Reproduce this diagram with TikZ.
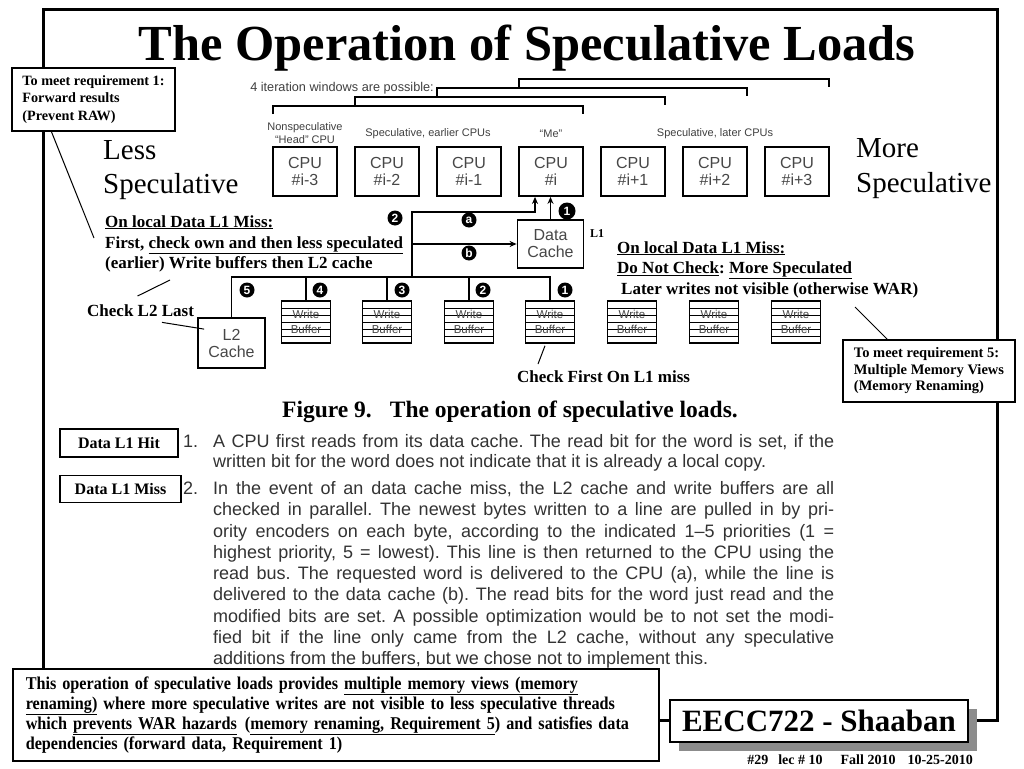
\documentclass[tikz,border=0pt]{standalone}
\usepackage{fontspec}
\setmainfont{Liberation Serif}
\newfontfamily\arial{Liberation Sans}
\newfontfamily\condserif[FakeStretch=0.9]{Liberation Serif}
\usetikzlibrary{arrows.meta,shadows,calc}
\newcommand\fsz[2]{\fontsize{#1pt}{#2pt}\selectfont}
\frenchspacing
\tikzset{
  frameline/.style={line width=3pt},
  cpu/.style={draw, line width=1.8pt, minimum width=64pt, minimum height=49pt, align=center, inner sep=0pt, font=\arial\fsz{16}{17}, text=black!72},
  cache/.style={cpu, minimum width=66pt, minimum height=48pt},
  wbuf/.style={draw, line width=1.5pt, minimum width=49pt, minimum height=42pt, inner sep=0pt, align=center, font=\arial\fsz{11.5}{14.5}, text=black!72,
    path picture={\foreach \f in {0.1667,0.3333,0.5,0.6667,0.8333}{\draw[line width=1pt] ($(path picture bounding box.north west)!\f!(path picture bounding box.south west)$) -- ($(path picture bounding box.north east)!\f!(path picture bounding box.south east)$);}}},
  num/.style={circle, fill=black, text=white, inner sep=0pt, minimum size=15pt, font=\arial\bfseries\fsz{12}{12}},
  bus/.style={line width=1.8pt},
  brk/.style={line width=1.8pt},
  arr/.style={-{Stealth[length=7pt,width=6pt]}},
  small/.style={font=\arial\fsz{11}{12.5}, text=black!75, inner sep=0pt, align=center},
  ann/.style={font=\bfseries\fsz{17}{21}, inner sep=0pt, anchor=base west},
  big/.style={font=\fsz{29}{33}, inner sep=0pt, anchor=base west},
  callout/.style={draw, line width=1.2pt, fill=white, align=left},
  lbox/.style={draw, line width=1.2pt, fill=white, font=\bfseries\fsz{16}{16}, inner sep=0pt},
  para/.style={font=\arial\fsz{18}{18}, text=black!80, anchor=base west, inner sep=0pt},
  pointer/.style={line width=1pt}
}
\begin{document}
\begin{tikzpicture}[x=1pt,y=-1pt]
\useasboundingbox (0,0) rectangle (1024,768);
\fill[white] (0,0) rectangle (1024,768);
% slide frame
\draw[frameline] (43,10) rectangle (997,720);
% title
\node[font=\bfseries\fsz{50.5}{50.5}, anchor=base, inner sep=0pt] (title) at (527,60) {The Operation of Speculative Loads};

% CPUs
\node[cpu] (c1) at (305,171.5) {CPU\\\#i-3};
\node[cpu] (c2) at (387,171.5) {CPU\\\#i-2};
\node[cpu] (c3) at (469,171.5) {CPU\\\#i-1};
\node[cpu] (c4) at (551,171.5) {CPU\\\#i};
\node[cpu] (c5) at (633,171.5) {CPU\\\#i+1};
\node[cpu] (c6) at (715,171.5) {CPU\\\#i+2};
\node[cpu] (c7) at (797,171.5) {CPU\\\#i+3};

% labels above CPUs
\node[small] (lab1) at (305,133) {Nonspeculative\\“Head” CPU};
\node[small] (lab2) at (428,134) {Speculative, earlier CPUs};
\node[small] (lab3) at (551,134) {“Me”};
\node[small] (lab4) at (715,134) {Speculative, later CPUs};
\node[small, font=\arial\fsz{12.7}{13}, anchor=base east] (iter) at (434,91) {4 iteration windows are possible:};

% iteration window brackets
\draw[brk] (273,114) -- (273,106) -- (583,106) -- (583,114);
\draw[brk] (355,106) -- (355,97) -- (665,97) -- (665,105);
\draw[brk] (437,97) -- (437,88) -- (747,88) -- (747,96);
\draw[brk] (519,88) -- (519,79) -- (829,79) -- (829,87);

% caches and write buffers
\node[cache] (dc) at (550.5,244) {Data\\Cache};
\node[cache, minimum width=67pt, minimum height=50pt] (l2) at (231.5,343) {L2\\Cache};
\node[wbuf] (wb1) at (306,322) {Write\\Buffer};
\node[wbuf] (wb2) at (387,322) {Write\\Buffer};
\node[wbuf] (wb3) at (469,322) {Write\\Buffer};
\node[wbuf] (wb4) at (550,322) {Write\\Buffer};
\node[wbuf] (wb5) at (632,322) {Write\\Buffer};
\node[wbuf] (wb6) at (714,322) {Write\\Buffer};
\node[wbuf] (wb7) at (796,322) {Write\\Buffer};
\node[font=\bfseries\fsz{12}{12}, anchor=base west, inner sep=0pt] (l1lab) at (590,237) {L1};

% buses
\coordinate (busJ) at (412,277);
\coordinate (busA) at (412,212);
\coordinate (busB) at (412,244);
\draw[bus] (l2.north) |- (wb4.north |- busJ) -- (wb4.north);
\draw[bus] (wb1.north) -- (wb1.north |- busJ);
\draw[bus] (wb2.north) -- (wb2.north |- busJ);
\draw[bus] (wb3.north) -- (wb3.north |- busJ);
\draw[bus, arr] (busJ) -- (busA) -| ([xshift=-16pt]c4.south);
\draw[bus, arr] (busB) -- (dc.west);
\draw[bus, arr] (dc.north) -- (dc.north |- c4.south);

% priority circles
\node[num] (p2top) at (395,218) {2};
\node[num] (pa) at (469,220) {a};
\node[num] (pb) at (469,253) {b};
\node[num, minimum size=17pt] (p1top) at (567,211) {1};
\node[num] (p5) at (247,290) {5};
\node[num] (p4) at (320,290) {4};
\node[num] (p3) at (402,290) {3};
\node[num] (p2) at (483,290) {2};
\node[num] (p1) at (565,290) {1};

% Less / More speculative
\node[big] (less) at (103,159.5) {Less};
\node[big] (lessS) at (103,193) {Speculative};
\node[big] (more) at (856,157) {More};
\node[big] (moreS) at (856,192) {Speculative};

% annotations
\node[ann] (ll1) at (105,227) {\underline{On local Data L1 Miss:}};
\node[ann] (ll2) at (105,248) {First, \underline{check own and then less speculated}};
\node[ann] (ll3) at (105,268.5) {(earlier) Write buffers then L2 cache};
\node[ann] (rl1) at (617,253) {\underline{On local Data L1 Miss:}};
\node[ann] (rl2) at (617,273.5) {\underline{Do Not Check}: \underline{More Speculated}};
\node[ann] (rl3) at (621,294) {Later writes not visible (otherwise WAR)};
\node[ann] (chkl2) at (87,316) {Check L2 Last};
\node[ann] (chkf) at (517,382) {Check First On L1 miss};

% callouts
\node[callout, minimum width=163pt, minimum height=63pt, font=\bfseries\fsz{14.2}{17.3}] (req1) at (93.5,99.5) {To meet requirement 1:\\Forward results\\(Prevent RAW)};
\node[callout, minimum width=172pt, minimum height=62pt, font=\bfseries\fsz{14.5}{16.5}] (req5) at (929,371) {To meet requirement 5:\\Multiple Memory Views\\(Memory Renaming)};

% pointer lines
\coordinate (q1) at (94,238);
\coordinate (q2) at (170,280);
\coordinate (q3) at (855,307);
\coordinate (q4) at (538,364);
\draw[pointer] ([xshift=40pt]req1.south west) -- (q1);
\draw[pointer] ([xshift=-3pt,yshift=8pt]chkl2.north) -- (q2);
\draw[pointer] ([xshift=75pt,yshift=-6pt]chkl2.south west) -- ([xshift=7pt,yshift=-12pt]l2.north west);
\draw[pointer] ([xshift=45pt]req5.north west) -- (q3);
\draw[pointer] ([xshift=-5pt,yshift=-2pt]wb4.south) -- (q4);

% figure caption
\node[font=\bfseries\fsz{23.5}{23.5}, anchor=base west, inner sep=0pt] (cap) at (282,417) {Figure 9.\hspace{18pt}The operation of speculative loads.};

% hit / miss boxes
\node[lbox, minimum width=118pt, minimum height=28pt] (hit) at (119,443) {Data L1 Hit};
\node[lbox, minimum width=121pt, minimum height=27pt] (miss) at (120.5,489) {Data L1 Miss};

% paragraph text
\node[para] (n1) at (183,447) {1.};
\node[para] (n2) at (183,494.5) {2.};
\node[para] (a1) at (213,447) {\makebox[621pt][s]{A CPU first reads from its data cache. The read bit for the word is set, if the}};
\node[para] (a2) at (213,467.5) {written bit for the word does not indicate that it is already a local copy.};
\node[para] (b1) at (213,494.5) {\makebox[621pt][s]{In the event of an data cache miss, the L2 cache and write buffers are all}};
\node[para] (b2) at (213,515.5) {\makebox[621pt][s]{checked in parallel. The newest bytes written to a line are pulled in by pri-}};
\node[para] (b3) at (213,537) {\makebox[621pt][s]{ority encoders on each byte, according to the indicated 1–5 priorities (1 =}};
\node[para] (b4) at (213,558) {\makebox[621pt][s]{highest priority, 5 = lowest). This line is then returned to the CPU using the}};
\node[para] (b5) at (213,579.5) {\makebox[621pt][s]{read bus. The requested word is delivered to the CPU (a), while the line is}};
\node[para] (b6) at (213,600.5) {\makebox[621pt][s]{delivered to the data cache (b). The read bits for the word just read and the}};
\node[para] (b7) at (213,622) {\makebox[621pt][s]{modified bits are set. A possible optimization would be to not set the modi-}};
\node[para] (b8) at (213,643) {\makebox[621pt][s]{fied bit if the line only came from the L2 cache, without any speculative}};
\node[para] (b9) at (213,664) {additions from the buffers, but we chose not to implement this.};

% summary box
\node[draw, fill=white, line width=1.5pt, anchor=north west, minimum height=92pt, text width=620pt, inner xsep=13pt, align=left, font=\condserif\bfseries\fsz{18}{20}] (summary) at (12,668) {This operation of speculative loads provides \underline{multiple memory views (memory}\\\underline{renaming)} where more speculative writes are not visible to less speculative threads\\which \underline{prevents WAR hazards}\hspace{8pt}(\underline{memory renaming, Requirement 5}) and satisfies data\\dependencies (forward data, Requirement 1)};

% course tag
\node[draw, fill=white, line width=1.5pt, minimum width=298pt, minimum height=42pt, drop shadow={shadow xshift=9pt, shadow yshift=-9pt, fill=black!45, opacity=1}, font=\bfseries\fsz{31}{31}] (eecc) at (819,721) {EECC722 - Shaaban};
\node[font=\bfseries\fsz{14}{14}, anchor=base east, inner sep=0pt] (foot) at (973,764) {\#29\hspace{10pt}lec \# 10\hspace{18pt}Fall 2010\hspace{12pt}10-25-2010};
\end{tikzpicture}
\end{document}
